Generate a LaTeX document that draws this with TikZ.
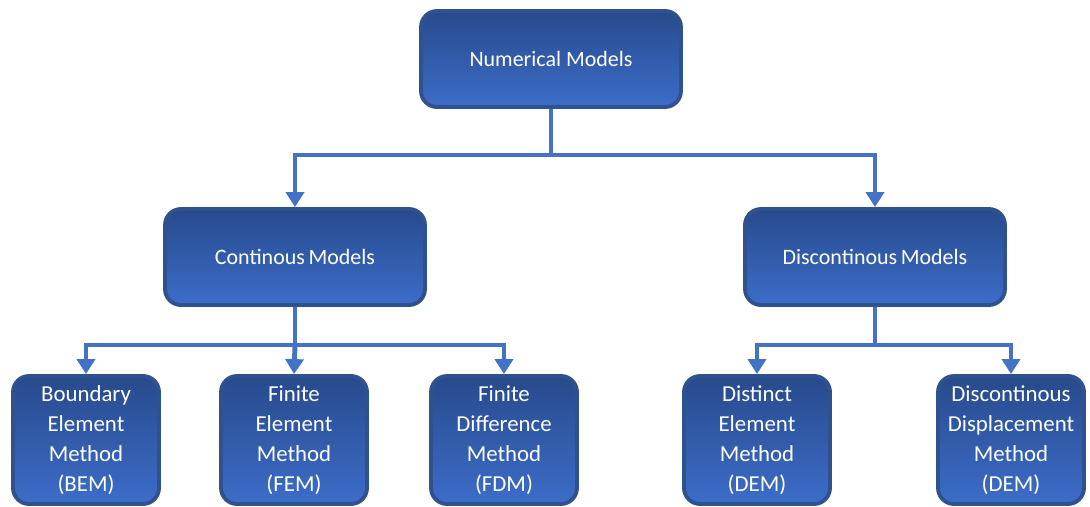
\documentclass[tikz,border=0pt]{standalone}
\usepackage{fontspec}
\setmainfont{Carlito}
\usetikzlibrary{arrows.meta}

\definecolor{boxtop}{HTML}{284A8C}
\definecolor{boxbot}{HTML}{3C6DC9}
\definecolor{boxline}{HTML}{2F528F}
\definecolor{linkblue}{HTML}{4472C4}

\begin{document}
\begin{tikzpicture}[x=0.02cm,y=-0.02cm]
  \tikzstyle{model}=[rectangle,rounded corners=0.32cm,draw=boxline,line width=2.2pt,
    top color=boxtop,bottom color=boxbot,text=white,align=center,inner sep=2pt]
  \tikzstyle{upper}=[model,minimum width=5.2cm,minimum height=1.92cm,
    font=\fontsize{12.5}{15}\selectfont]
  \tikzstyle{method}=[model,minimum width=2.92cm,minimum height=2.56cm,
    font=\fontsize{13}{17}\selectfont]
  \tikzstyle{link}=[draw=linkblue,line width=2.8pt,
    -{Triangle[width=0.36cm,length=0.3cm]}]
  \useasboundingbox (0,0) rectangle (1090,507);

  \node[upper] (num) at (551,59) {Numerical Models};

  \node[upper] (cont) at (295,257) {Continous\,Models};
  \node[upper] (disc) at (875,257) {Discontinous\,Models};

  \node[method] (bem) at (86,440)  {Boundary\\Element\\Method\\(BEM)};
  \node[method] (fem) at (294,440) {Finite\\Element\\Method\\(FEM)};
  \node[method] (fdm) at (504,440) {Finite\\Difference\\Method\\(FDM)};
  \node[method] (dem) at (757,440) {Distinct\\Element\\Method\\(DEM)};
  \node[method] (ddm) at (1011,440) {Discontinous\\Displacement\\Method\\(DEM)};

  \coordinate (j1) at (551,155);
  \coordinate (j2) at (295,345);
  \coordinate (j3) at (875,345);

  \draw[link] (num.south) -- (j1) -| (cont.north);
  \draw[link] (j1) -| (disc.north);

  \draw[link] (cont.south) -- (j2) -| (bem.north);
  \draw[link] (j2) -- (fem.north);
  \draw[link] (j2) -| (fdm.north);

  \draw[link] (disc.south) -- (j3) -| (dem.north);
  \draw[link] (j3) -| (ddm.north);
\end{tikzpicture}
\end{document}
